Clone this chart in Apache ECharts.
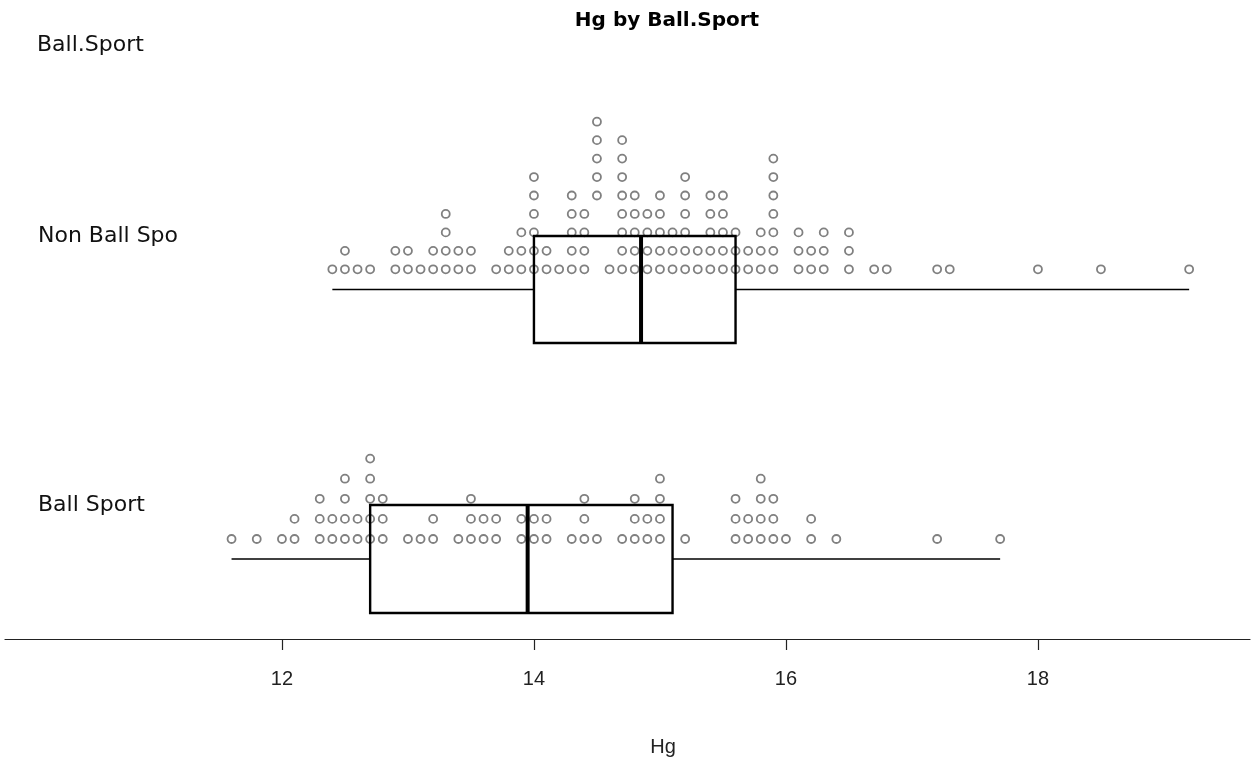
<!DOCTYPE html>
<html>
<head>
<meta charset="utf-8">
<script src="https://cdn.jsdelivr.net/npm/echarts@6/dist/echarts.min.js"></script>
<style>
  html, body { margin: 0; padding: 0; background: #fff; }
  #chart { width: 1252px; height: 763px; }
</style>
</head>
<body>
<div id="chart"></div>
<script>
// Hg values of each stacked dot, one array per row (row 1 sits on the bottom)
const nonBallRow1 = [12.4, 12.5, 12.6, 12.7, 12.9, 13.0, 13.1, 13.2, 13.3, 13.4, 13.5,
  13.7, 13.8, 13.9, 14.0, 14.1, 14.2, 14.3, 14.4, 14.6, 14.7, 14.8, 14.9, 15.0, 15.1,
  15.2, 15.3, 15.4, 15.5, 15.6, 15.7, 15.8, 15.9, 16.1, 16.2, 16.3, 16.5, 16.7, 16.8,
  17.2, 17.3, 18.0, 18.5, 19.2];
const nonBallRow2 = [12.5, 12.9, 13.0, 13.2, 13.3, 13.4, 13.5, 13.8, 13.9, 14.0, 14.1,
  14.3, 14.4, 14.7, 14.8, 14.9, 15.0, 15.1, 15.2, 15.3, 15.4, 15.5, 15.6, 15.7, 15.8,
  15.9, 16.1, 16.2, 16.3, 16.5];
const nonBallRow3 = [13.3, 13.9, 14.0, 14.3, 14.4, 14.7, 14.8, 14.9, 15.0, 15.1, 15.2,
  15.4, 15.5, 15.6, 15.8, 15.9, 16.1, 16.3, 16.5];
const nonBallRow4 = [13.3, 14.0, 14.3, 14.4, 14.7, 14.8, 14.9, 15.0, 15.2, 15.4, 15.5, 15.9];
const nonBallRow5 = [14.0, 14.3, 14.5, 14.7, 14.8, 15.0, 15.2, 15.4, 15.5, 15.9];
const nonBallRow6 = [14.0, 14.5, 14.7, 15.2, 15.9];
const nonBallRow7 = [14.5, 14.7, 15.9];
const nonBallRow8 = [14.5, 14.7];
const nonBallRow9 = [14.5];

const ballRow1 = [11.6, 11.8, 12.0, 12.1, 12.3, 12.4, 12.5, 12.6, 12.7, 12.8, 13.0, 13.1,
  13.2, 13.4, 13.5, 13.6, 13.7, 13.9, 14.0, 14.1, 14.3, 14.4, 14.5, 14.7, 14.8, 14.9,
  15.0, 15.2, 15.6, 15.7, 15.8, 15.9, 16.0, 16.2, 16.4, 17.2, 17.7];
const ballRow2 = [12.1, 12.3, 12.4, 12.5, 12.6, 12.7, 12.8, 13.2, 13.5, 13.6, 13.7, 13.9,
  14.0, 14.1, 14.4, 14.8, 14.9, 15.0, 15.6, 15.7, 15.8, 15.9, 16.2];
const ballRow3 = [12.3, 12.5, 12.7, 12.8, 13.5, 14.4, 14.8, 15.0, 15.6, 15.8, 15.9];
const ballRow4 = [12.5, 12.7, 15.0, 15.8];
const ballRow5 = [12.7];

// five-number summaries: min, Q1, median, Q3, max
const nonBallBox = [12.4, 14.0, 14.85, 15.6, 19.2];
const ballBox = [11.6, 12.7, 13.95, 15.1, 17.7];

const groupLabels = ['Non Ball Spo', 'Ball Sport'];
const tickValues = [12, 14, 16, 18];

// vertical layout of the two panels (units = pixels above the axis line)
const panels = [
  { label: groupLabels[0], box: nonBallBox,
    rows: [nonBallRow1, nonBallRow2, nonBallRow3, nonBallRow4, nonBallRow5,
           nonBallRow6, nonBallRow7, nonBallRow8, nonBallRow9],
    dotBase: 369.7, dotStep: 18.45, boxMid: 349.5, boxHalf: 53.5 },
  { label: groupLabels[1], box: ballBox,
    rows: [ballRow1, ballRow2, ballRow3, ballRow4, ballRow5],
    dotBase: 100, dotStep: 20.1, boxMid: 80, boxHalf: 54 }
];

const dots = [];
panels.forEach(p => {
  p.rows.forEach((row, i) => {
    row.forEach(v => dots.push([v, p.dotBase + i * p.dotStep]));
  });
});

const boxData = panels.map(p => p.box.concat([p.boxMid]));

const labelFont = '22px "DejaVu Sans"';

function renderBox(params, api) {
  const p = panels[params.dataIndex];
  const mid = api.value(5);
  const y = api.coord([12, mid])[1];
  const yTop = api.coord([12, mid + p.boxHalf])[1];
  const yBot = api.coord([12, mid - p.boxHalf])[1];
  const x = [0, 1, 2, 3, 4].map(i => api.coord([api.value(i), mid])[0]);
  const thin = { stroke: '#000', lineWidth: 1.6 };
  return {
    type: 'group',
    children: [
      { type: 'line', shape: { x1: x[0], y1: y, x2: x[1], y2: y }, style: thin },
      { type: 'line', shape: { x1: x[3], y1: y, x2: x[4], y2: y }, style: thin },
      { type: 'rect', shape: { x: x[1], y: yTop, width: x[3] - x[1], height: yBot - yTop },
        style: { fill: 'none', stroke: '#000', lineWidth: 2.4 } },
      { type: 'line', shape: { x1: x[2], y1: yTop, x2: x[2], y2: yBot },
        style: { stroke: '#000', lineWidth: 4 } },
      { type: 'text', x: 38, y: yTop,
        style: { text: p.label, fill: '#111', font: labelFont,
                 verticalAlign: 'middle', align: 'left' } }
    ]
  };
}

const chart = echarts.init(document.getElementById('chart'), null, { renderer: 'canvas' });
chart.setOption({
  backgroundColor: '#fff',
  animation: false,
  title: {
    text: 'Hg by Ball.Sport',
    left: 662, top: 6, textAlign: 'center',
    textStyle: { fontFamily: 'DejaVu Sans', fontWeight: 'bold', fontSize: 20, color: '#000' }
  },
  graphic: [
    { type: 'text', left: 37, top: 34,
      style: { text: 'Ball.Sport', fill: '#111', font: labelFont } },
    // axis title, centred under the data range
    { type: 'text', x: 663, y: 747,
      style: { text: 'Hg', fill: '#222', font: '20px "Liberation Sans"',
               align: 'center', verticalAlign: 'middle' } }
  ],
  grid: { left: 5, right: 2, top: 0, bottom: 124, containLabel: false },
  xAxis: {
    type: 'value', min: 9.802, max: 19.683,
    axisLine: { show: true, onZero: false, lineStyle: { color: '#222', width: 1.2 } },
    axisTick: { show: true, customValues: tickValues, length: 11, lineStyle: { color: '#222', width: 1.2 } },
    axisLabel: { customValues: tickValues, margin: 30,
      fontFamily: 'Liberation Sans', fontSize: 20, color: '#222' },
    splitLine: { show: false }
  },
  yAxis: { type: 'value', min: 0, max: 639, show: false },
  series: [
    {
      type: 'scatter', data: dots, symbol: 'circle', symbolSize: 8,
      itemStyle: { color: 'rgba(255,255,255,0)', borderColor: '#808080', borderWidth: 1.8, opacity: 1 },
      z: 2
    },
    {
      type: 'custom', data: boxData, renderItem: renderBox,
      encode: { x: [0, 1, 2, 3, 4], y: 5 }, z: 3
    }
  ]
});
</script>
</body>
</html>
